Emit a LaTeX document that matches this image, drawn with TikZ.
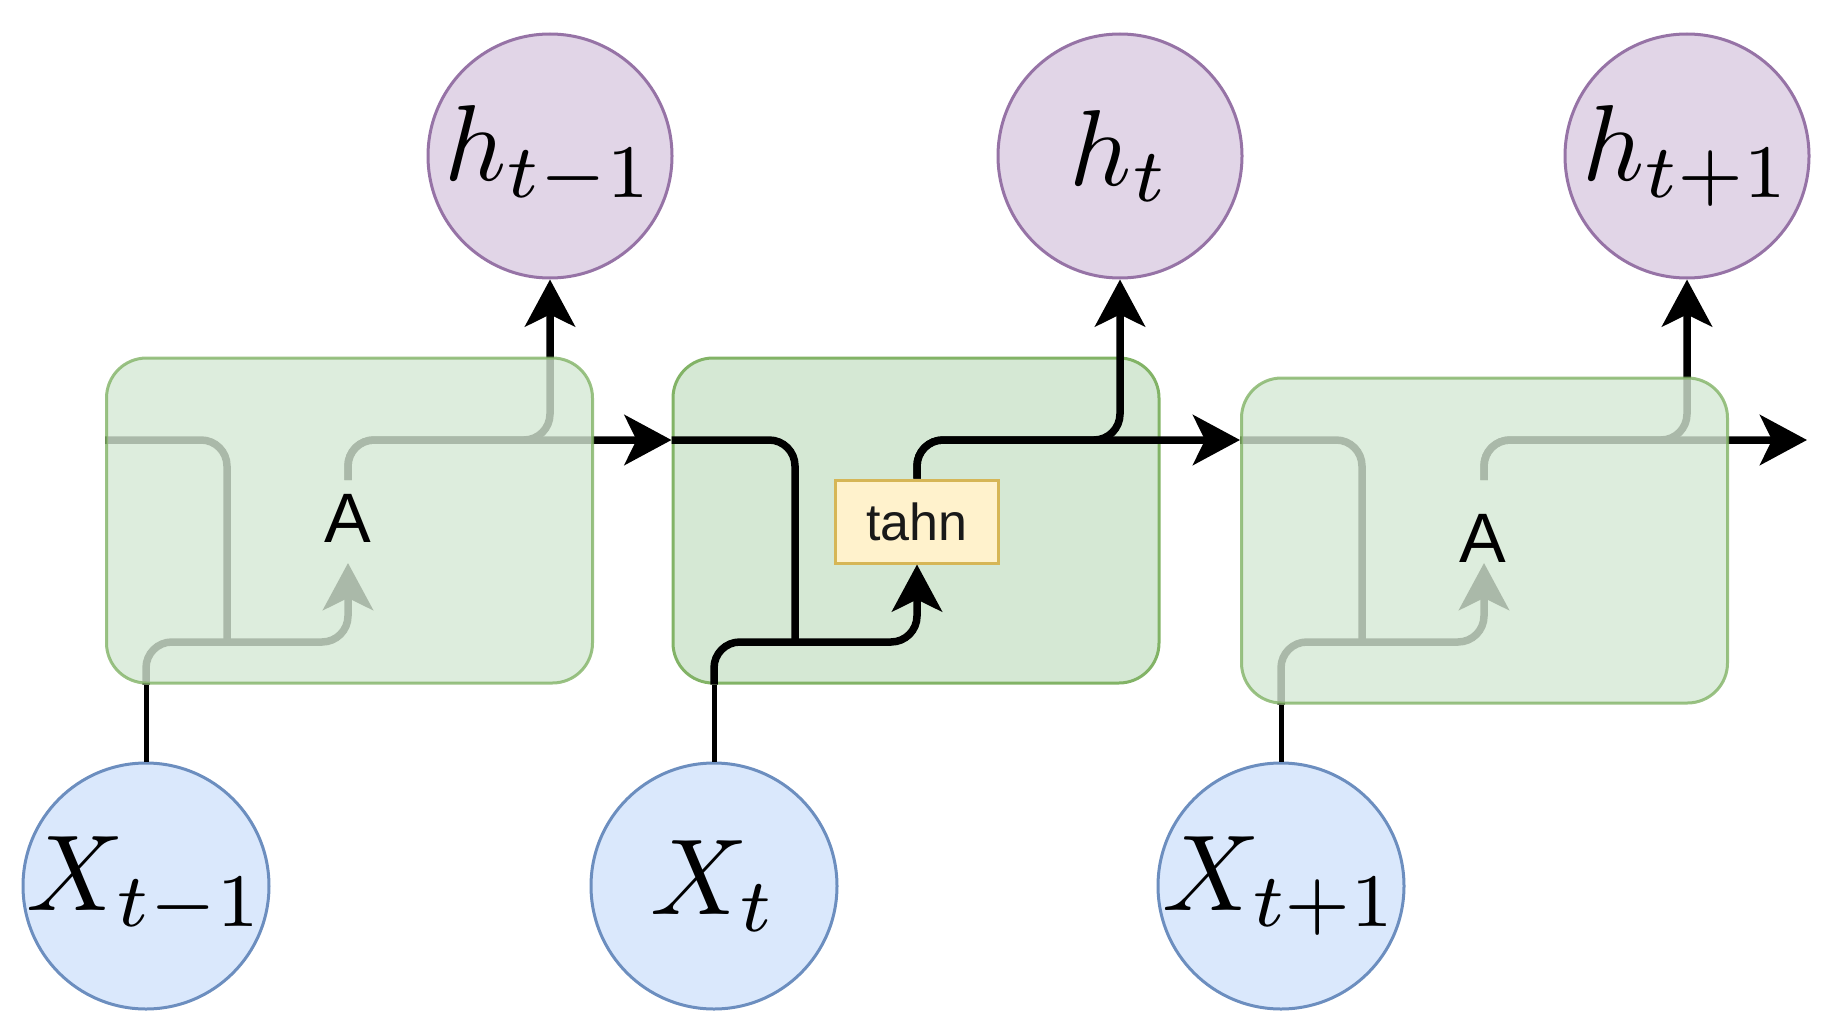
\documentclass[tikz,border=0pt]{standalone}
\usepackage{fontspec}
\newfontfamily\arialf{Liberation Sans}
\usetikzlibrary{arrows.meta}
\definecolor{gfill}{HTML}{D5E8D4}
\definecolor{gdraw}{HTML}{82B366}
\definecolor{pfill}{HTML}{E1D5E7}
\definecolor{pdraw}{HTML}{9673A6}
\definecolor{bfill}{HTML}{DAE8FC}
\definecolor{bdraw}{HTML}{6C8EBF}
\definecolor{yfill}{HTML}{FFF2CC}
\definecolor{ydraw}{HTML}{D6B656}
\newcommand{\bigmath}[1]{\makebox[0pt]{\scalebox{10.8}{\normalsize$#1$}}}
\pgfdeclarelayer{bg}
\pgfdeclarelayer{fg}
\pgfsetlayers{bg,main,fg}
\begin{document}
\begin{tikzpicture}[x=1pt,y=-1pt,
  hnode/.style={circle, draw=pdraw, fill=pfill, line width=3pt, minimum size=244pt, inner sep=0pt},
  xnode/.style={circle, draw=bdraw, fill=bfill, line width=3pt, minimum size=246pt, inner sep=0pt},
  cell/.style={rectangle, rounded corners=40pt, draw=gdraw, fill=gfill, line width=3pt, minimum width=486pt, minimum height=325pt, inner sep=0pt},
  faded/.style={cell, opacity=0.8},
  alabel/.style={font=\arialf\fontsize{70}{70}\selectfont, inner sep=0pt, text=black},
  gate/.style={rectangle, draw=ydraw, fill=yfill, line width=3pt, minimum width=163pt, minimum height=83pt, inner sep=0pt, font=\arialf\fontsize{52}{52}\selectfont, text={black!90}},
  wire/.style={line width=7.5pt, rounded corners=26pt},
  stub/.style={line width=5pt},
  tip/.style={-{Stealth[length=47pt,width=50pt,inset=12pt]}}
]
\useasboundingbox (0,0) rectangle (1837,1033);

% reference rows
\coordinate (top) at (0,440);
\coordinate (low) at (0,642);

% cells
\begin{pgfonlayer}{bg}
  \node[cell] (b2) at (916,520.5) {};
\end{pgfonlayer}
\begin{pgfonlayer}{fg}
  \node[faded] (b1) at (349.5,520.5) {};
  \node[faded] (b3) at (1484.5,540.5) {};
  \node[alabel] (a1) at (348,518) {A};
  \node[alabel] (a3) at (1483,538) {A};
\end{pgfonlayer}

% outputs and inputs
\node[hnode] (h1) at (550,156) {\bigmath{h_{t-1}}};
\node[hnode] (h2) at (1120,156) {\bigmath{h_{t}}};
\node[hnode] (h3) at (1687,156) {\bigmath{h_{t+1}}};
\node[xnode] (x1) at (146,886) {\bigmath{X_{t-1}}};
\node[xnode] (x2) at (714,886) {\bigmath{X_{t}}};
\node[xnode] (x3) at (1281,886) {\bigmath{X_{t+1}}};

% gate
\node[gate] (tahn) at (917,521.5) {tahn};

% anchor points of the A cells
\coordinate (a1in) at (348,563);
\coordinate (a1out) at (348,480);
\coordinate (a3in) at (1484,563);
\coordinate (a3out) at (1484,480);
\coordinate (out) at (1807,440);

% cell 1 wiring
\draw[wire] (b1.west |- top) -- (227,440) -- (227,642);
\draw[stub] (x1) -- (x1 |- b1.south);
\draw[wire,tip] (x1 |- b1.south) -- (146,642) -- (a1in |- low) -- (a1in);
\draw[wire,tip] (a1out) -- (a1out |- top) -- (h1 |- top) -- (h1);
\draw[wire,tip] (a1out) -- (a1out |- top) -- (b2.west |- top);

% cell 2 wiring
\draw[wire] (b2.west |- top) -- (795,440) -- (795,642);
\draw[stub] (x2) -- (x2 |- b2.south);
\draw[wire,tip] (x2 |- b2.south) -- (714,642) -- (tahn.south |- low) -- (tahn.south);
\draw[wire,tip] (tahn.north) -- (tahn.north |- top) -- (h2 |- top) -- (h2);
\draw[wire,tip] (tahn.north) -- (tahn.north |- top) -- (b3.west |- top);

% cell 3 wiring
\draw[wire] (b3.west |- top) -- (1362,440) -- (1362,642);
\draw[stub] (x3) -- (x3 |- b3.south);
\draw[wire,tip] (x3 |- b3.south) -- (1281,642) -- (a3in |- low) -- (a3in);
\draw[wire,tip] (a3out) -- (a3out |- top) -- (h3 |- top) -- (h3);
\draw[wire,tip] (a3out) -- (a3out |- top) -- (out);
\end{tikzpicture}
\end{document}
